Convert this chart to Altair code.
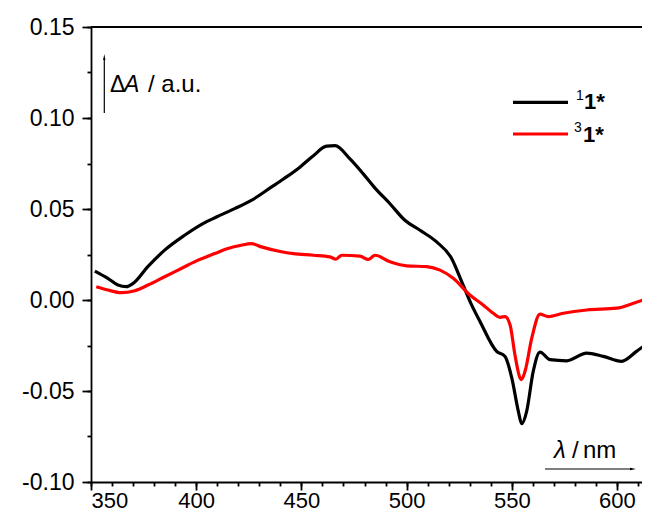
import altair as alt
import pandas as pd

# ---- data ----
black_x = [351.8, 358, 362.8, 366.8, 370, 377, 385, 394.5, 403.2, 409.6, 418.3, 426.2, 435.7,
           441.5, 449.3, 455.7, 462, 466, 473.1, 479.4, 485, 492.1, 499.2, 506.4, 514.3, 521.4,
           526.2, 530.9, 534.9, 542.8, 546.8, 550, 553.1, 554.7, 557.1, 560.2, 563.4, 568.2,
           576.1, 585.6, 593.5, 602.2, 609.3, 615.7]
black_y = [0.0159, 0.0119, 0.0082, 0.0073, 0.0091, 0.0183, 0.0274, 0.0356, 0.042, 0.0456, 0.0502,
           0.0547, 0.062, 0.0665, 0.073, 0.0793, 0.0845, 0.0848, 0.0775, 0.0693, 0.0615, 0.0529,
           0.0438, 0.0383, 0.0319, 0.0228, 0.0101, -0.0027, -0.0118, -0.0282, -0.031, -0.0428,
           -0.061, -0.068, -0.061, -0.0392, -0.0286, -0.0328, -0.0334, -0.0292, -0.031, -0.0337,
           -0.0282, -0.0228]

red_x = [352.5, 358, 364.4, 370.8, 377.1, 385, 392.9, 400.9, 408.8, 415.1, 421.4, 426.2, 431,
         440.5, 446.2, 455.7, 463.6, 466.4, 469.2, 477.9, 481.8, 485, 492.1, 500, 509.6, 515.9,
         522.2, 530.1, 536.4, 541.2, 544.4, 546.8, 549.2, 551.5, 553.9, 554.6, 556.3, 559.5,
         563.4, 567.3, 574.5, 585.6, 599.9, 607.8, 615.7]
red_y = [0.0073, 0.0055, 0.004, 0.0051, 0.0082, 0.0128, 0.0173, 0.0219, 0.0255, 0.0283, 0.0301,
         0.031, 0.0292, 0.0265, 0.0255, 0.0246, 0.0237, 0.0224, 0.0246, 0.0241, 0.0223, 0.0246,
         0.021, 0.0188, 0.0183, 0.0164, 0.0119, 0.0027, -0.0027, -0.0073, -0.0095, -0.0091,
         -0.0137, -0.0301, -0.0428, -0.0437, -0.0392, -0.021, -0.0078, -0.0091, -0.0073, -0.0055,
         -0.0045, -0.0018, 0.0013]

series_names = ["1", "3"]
series_colors = ["#000000", "#ff0000"]

x_major = [350, 400, 450, 500, 550, 600]
x_minor = [350, 360, 370, 380, 390, 400, 410, 420, 430, 440, 450, 460, 470, 480, 490, 500,
           510, 520, 530, 540, 550, 560, 570, 580, 590, 600, 610]
y_major = [-0.10, -0.05, 0.0, 0.05, 0.10, 0.15]
y_minor = [-0.10, -0.075, -0.05, -0.025, 0.0, 0.025, 0.05, 0.075, 0.10, 0.125, 0.15]

x_domain = [350, 611.9]
y_domain = [-0.10, 0.15]

df = pd.concat([
    pd.DataFrame({"x": black_x, "y": black_y, "series": series_names[0], "order": 0}),
    pd.DataFrame({"x": red_x, "y": red_y, "series": series_names[1], "order": 1}),
], ignore_index=True)

FONT = "Liberation Sans"
W, H = 551, 455

xs = alt.Scale(domain=x_domain, nice=False, zero=False)
ys = alt.Scale(domain=y_domain, nice=False, zero=False)

minor = alt.Chart(df).mark_line(opacity=0, clip=True).encode(
    x=alt.X("x:Q", scale=xs, axis=alt.Axis(values=x_minor, orient="bottom", labels=False,
                                           domain=False, tickSize=4, title=None, grid=False)),
    y=alt.Y("y:Q", scale=ys, axis=alt.Axis(values=y_minor, orient="left", labels=False,
                                           domain=False, tickSize=4, title=None, grid=False)),
    detail="series:N",
)

main = alt.Chart(df).mark_line(strokeWidth=3.2, interpolate="monotone", clip=True).encode(
    x=alt.X("x:Q", scale=xs, axis=alt.Axis(values=x_major, orient="bottom", title=None,
                                           tickSize=8, labelPadding=0, labelFontSize=22,
                                           format="d", grid=False)),
    y=alt.Y("y:Q", scale=ys, axis=alt.Axis(values=y_major, orient="left", title=None,
                                           tickSize=9, labelPadding=8, grid=False,
                                           labelExpr="(datum.value < -0.0001 ? '-' : '') + format(abs(datum.value), '.2f')")),
    color=alt.Color("series:N", scale=alt.Scale(domain=series_names, range=series_colors), legend=None),
    order="order:Q",
)

one = pd.DataFrame({"k": [0]})

top_border = alt.Chart(one).mark_rule(color="black", strokeWidth=1.8).encode(
    x=alt.value(0), x2=alt.value(W), y=alt.value(0))

def txt(s, x, y, size=21, style="normal", weight="normal", color="black"):
    return alt.Chart(one).mark_text(text=s, align="left", baseline="alphabetic", font=FONT,
                                    fontSize=size, fontStyle=style, fontWeight=weight,
                                    color=color).encode(x=alt.value(x), y=alt.value(y))

# y-title with arrow
y_arrow_line = alt.Chart(one).mark_rule(color="black", strokeWidth=1.2).encode(
    x=alt.value(13.3), y=alt.value(86), y2=alt.value(31))
y_arrow_head = alt.Chart(one).mark_point(shape="M0,-1.2L0.35,0.6L-0.35,0.6Z", filled=True,
                                         color="black", size=45, opacity=1).encode(
    x=alt.value(13.3), y=alt.value(31))
y_t1 = txt("Δ", 19, 64.7, 23)
y_t2 = txt("A", 33, 64.7, 23, style="italic")
y_t3 = txt("/ a.u.", 57, 64.7, 24)

# x-title with arrow
x_arrow_line = alt.Chart(one).mark_rule(color="black", strokeWidth=1.2).encode(
    x=alt.value(454), x2=alt.value(541), y=alt.value(442))
x_arrow_head = alt.Chart(one).mark_point(shape="M1.2,0L-0.6,0.35L-0.6,-0.35Z", filled=True,
                                         color="black", size=45, opacity=1).encode(
    x=alt.value(541), y=alt.value(442))
x_t1 = txt("λ", 463, 431, 24, style="italic")
x_t2 = txt("/", 481, 431, 24)
x_t3 = txt("nm", 492, 431, 24)

# legend
leg_black = alt.Chart(one).mark_rule(color=series_colors[0], strokeWidth=3.2).encode(
    x=alt.value(422), x2=alt.value(477), y=alt.value(75.3))
leg_red = alt.Chart(one).mark_rule(color=series_colors[1], strokeWidth=3.2).encode(
    x=alt.value(422), x2=alt.value(477), y=alt.value(107))
leg1a = txt(series_names[0], 485, 73, 14)
leg1b = txt("1*", 493, 82.3, 22, weight="bold")
leg3a = txt(series_names[1], 483, 104.7, 14)
leg3b = txt("1*", 492, 114.5, 22, weight="bold")

chart = alt.layer(
    minor, main, top_border,
    y_arrow_line, y_arrow_head, y_t1, y_t2, y_t3,
    x_arrow_line, x_arrow_head, x_t1, x_t2, x_t3,
    leg_black, leg_red, leg1a, leg1b, leg3a, leg3b,
).resolve_axis(x="independent", y="independent").properties(
    width=W, height=H,
    autosize=alt.AutoSizeParams(type="none"),
    padding={"left": 83, "top": 19, "right": 0, "bottom": 32},
).configure_view(stroke=None).configure_axis(
    domainColor="black", tickColor="black", labelColor="black",
    labelFont=FONT, labelFontSize=23, domainWidth=1.8, tickWidth=1.8,
)

chart.save("out.html", embed_options={"renderer": "svg", "actions": False})
